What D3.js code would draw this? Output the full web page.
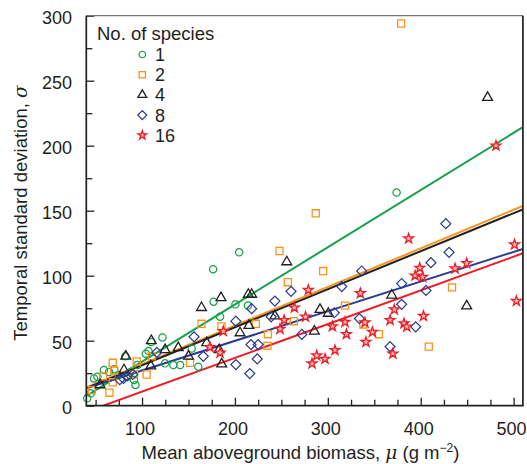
<!DOCTYPE html>
<html><head><meta charset="utf-8">
<script src="https://cdn.jsdelivr.net/npm/d3@7"></script>
<style>
body{margin:0;background:#fff}
svg{display:block}
text{font-family:"Liberation Sans",Arial,Helvetica,sans-serif;fill:#231f20}
</style>
</head><body>
<svg id="c" width="527" height="464"></svg>
<script>
// ---- data ----
const speciesLabels = ["1", "2", "4", "8", "16"];
const seriesColors = ["#17a04a", "#f7941d", "#231f20", "#2b3990", "#ed1c24"];

const species1 = [[374,164],[204.5,118],[176.5,105],[200.5,78],[177,80],[214,77],[184,68.5],[122,52.5],[110,49],[153.5,44],[160.6,30],[124.8,32.6],[133.7,31.3],[141,31.3],[104,40],[82,38],[95,31.3],[59,27.5],[64.5,26],[52,22.3],[75,23.6],[84,22.3],[91.4,19.8],[93,16],[41,5.7],[44.8,9.5],[48.3,21],[107,42],[70,28],[88,26]];
const species2 = [[379,294],[287,148],[248,119],[295,103.6],[257,95],[433.7,91],[318.5,77],[164,63],[185.5,61],[222.5,63],[263.4,65],[235.5,55],[235,46],[338.4,62.5],[355,55],[408.7,45.4],[151.7,33],[105,24],[94.3,34],[68.5,33],[64.9,10],[45.9,12],[110.4,38],[91.4,24],[58,22.6],[68.5,18],[70,27]];
const species4 = [[472,237],[255.8,110.6],[185,83],[164,75.4],[214.4,85.6],[218,85.6],[205.5,56],[215,61.7],[368.8,85],[449.5,76.7],[291.6,74],[300.5,71],[285.5,57.3],[243,69],[169.6,48.4],[183,43],[185.8,32],[150,38],[139,44.5],[124.8,43],[110,50],[109.4,30.5],[82.5,38],[80.6,27.5],[54.8,16]];
const species8 = [[427,140],[430.5,118],[411,110],[336.5,103.6],[379.5,94],[405.7,88.7],[379.5,78],[394.6,60.7],[334,67],[367,45.4],[260.4,88],[243,80.5],[239,68.4],[218,74.6],[315,91.6],[307,71.5],[272,54.8],[217.3,47],[225,47],[224,36],[216,24.7],[201,65],[156,53],[166,38],[201,31.6],[116,41],[80,21],[84,23],[90,24],[76,20]];
const species16 = [[481,200],[501,124],[503,80.5],[387,128.6],[449.5,109.6],[437,105.5],[399,106],[394,100],[402,99],[335,86.5],[279,89],[264,75.4],[253,65.8],[248.5,59],[276,68.4],[305,61],[318.5,64.3],[320,55],[307.7,42.7],[297,36],[288,38.6],[283,32.4],[340,64],[341,49],[348,56.6],[367,65.8],[371.6,74],[370,40],[382,63.3],[385,60.7],[403,69],[187.5,57.3],[173,45],[184,40.7]];

// regression lines: sigma = intercept + slope * mu
const intercepts = [-10.1, 2.2, 1.8, 4.3, -15.1];
const slopes = [0.440, 0.297, 0.2926, 0.228, 0.2595];

const xMajorTicks = [100, 200, 300, 400, 500];
const xMinorTicks = [50, 75, 125, 150, 175, 225, 250, 275, 325, 350, 375, 425, 450, 475];
const yMajorTicks = [0, 50, 100, 150, 200, 250, 300];
const yMinorTicks = [25, 75, 125, 175, 225, 275];

// ---- chart ----
const allSeries = [species1, species2, species4, species8, species16];
const svg = d3.select("#c");
const x = d3.scaleLinear().domain([40, 510]).range([86.3, 522.9]);
const y = d3.scaleLinear().domain([0, 300]).range([405.7, 15.7]);

svg.append("defs").append("clipPath").attr("id", "clip")
  .append("rect")
  .attr("x", x(40)).attr("y", y(300))
  .attr("width", x(510) - x(40)).attr("height", y(0) - y(300));

function styleAxis(g) {
  g.select(".domain").remove();
  g.selectAll(".tick line").attr("stroke", "#231f20").attr("stroke-width", 1.3);
  g.selectAll(".tick text").style("font-size", "18px").attr("fill", "#231f20");
}
svg.append("g").attr("transform", `translate(0,${y(0)})`)
  .call(d3.axisBottom(x).tickValues(xMinorTicks).tickSize(-6).tickFormat(""))
  .call(styleAxis);
svg.append("g").attr("transform", `translate(0,${y(0)})`)
  .call(d3.axisBottom(x).tickValues(xMajorTicks).tickSize(-8).tickPadding(16.5).tickFormat(d3.format("d")))
  .call(styleAxis)
  .call(g => g.selectAll(".tick text").attr("dx", -2.5));
svg.append("g").attr("transform", `translate(${x(40)},0)`)
  .call(d3.axisLeft(y).tickValues(yMinorTicks).tickSize(-6).tickFormat(""))
  .call(styleAxis);
svg.append("g").attr("transform", `translate(${x(40)},0)`)
  .call(d3.axisLeft(y).tickValues(yMajorTicks).tickSize(-8).tickPadding(14.3).tickFormat(d3.format("d")))
  .call(styleAxis)
  .call(g => g.selectAll(".tick text").attr("dy", "0.44em"));

// regression lines
const lineGen = d3.line().x(d => x(d[0])).y(d => y(d[1]));
const lineG = svg.append("g").attr("clip-path", "url(#clip)");
intercepts.forEach((a, i) => {
  const b = slopes[i];
  lineG.append("path")
    .attr("d", lineGen([[40, a + b * 40], [510, a + b * 510]]))
    .attr("fill", "none")
    .attr("stroke", seriesColors[i])
    .attr("stroke-width", 2);
});

// markers
const shapes = [d3.symbolCircle, d3.symbolSquare, d3.symbolTriangle, d3.symbolSquare, d3.symbolStar];
const sizes = [42, 50, 42, 50, 30];
const rotations = [0, 0, 0, 45, 0];
const fills = ["none", "none", "none", "none", "#f8b8b9"];
const strokeW = [1.2, 1.3, 1.3, 1.2, 1.3];

function drawMarker(g, i, cx, cy, scale) {
  g.append("path")
    .attr("d", d3.symbol().type(shapes[i]).size(sizes[i] * scale)())
    .attr("transform", `translate(${cx},${cy}) rotate(${rotations[i]})`)
    .attr("fill", fills[i])
    .attr("stroke", seriesColors[i])
    .attr("stroke-width", strokeW[i])
    .attr("stroke-linejoin", "miter");
}
const ptsG = svg.append("g");
allSeries.forEach((s, i) => {
  s.forEach(d => drawMarker(ptsG, i, x(d[0]), y(d[1]), 1));
});

// frame
svg.append("line").attr("x1", x(40)).attr("x2", x(510)).attr("y1", y(300)).attr("y2", y(300))
  .attr("stroke", "#777").attr("stroke-width", 1.2);
svg.append("path")
  .attr("d", `M${x(40)},${y(300)}V${y(0)}H${x(510)}V${y(300)}`)
  .attr("fill", "none").attr("stroke", "#231f20").attr("stroke-width", 1.7);

// legend
const leg = svg.append("g");
leg.append("text").attr("x", 97).attr("y", 39.8).style("font-size", "18.5px").text("No. of species");
speciesLabels.forEach((lab, i) => {
  const cy = 54.5 + i * 20.2;
  drawMarker(leg, i, 142.3, cy, 0.8);
  leg.append("text").attr("x", 155).attr("y", cy + 6.5).style("font-size", "18px").text(lab);
});

// axis titles
const xt = svg.append("text").attr("x", 300.5).attr("y", 459).attr("text-anchor", "middle").style("font-size", "18.5px");
xt.append("tspan").text("Mean aboveground biomass, ");
xt.append("tspan").style("font-style", "italic").style("font-family", "'DejaVu Serif',serif").text("μ");
xt.append("tspan").text(" (g m");
xt.append("tspan").attr("dy", -7).style("font-size", "12px").text("−2");
xt.append("tspan").attr("dy", 7).text(")");

const yt = svg.append("text").attr("transform", "translate(27,213) rotate(-90)").attr("text-anchor", "middle").style("font-size", "18.5px");
yt.append("tspan").text("Temporal standard deviation, ");
yt.append("tspan").style("font-style", "italic").style("font-family", "'DejaVu Serif',serif").text("σ");
</script>
</body></html>
